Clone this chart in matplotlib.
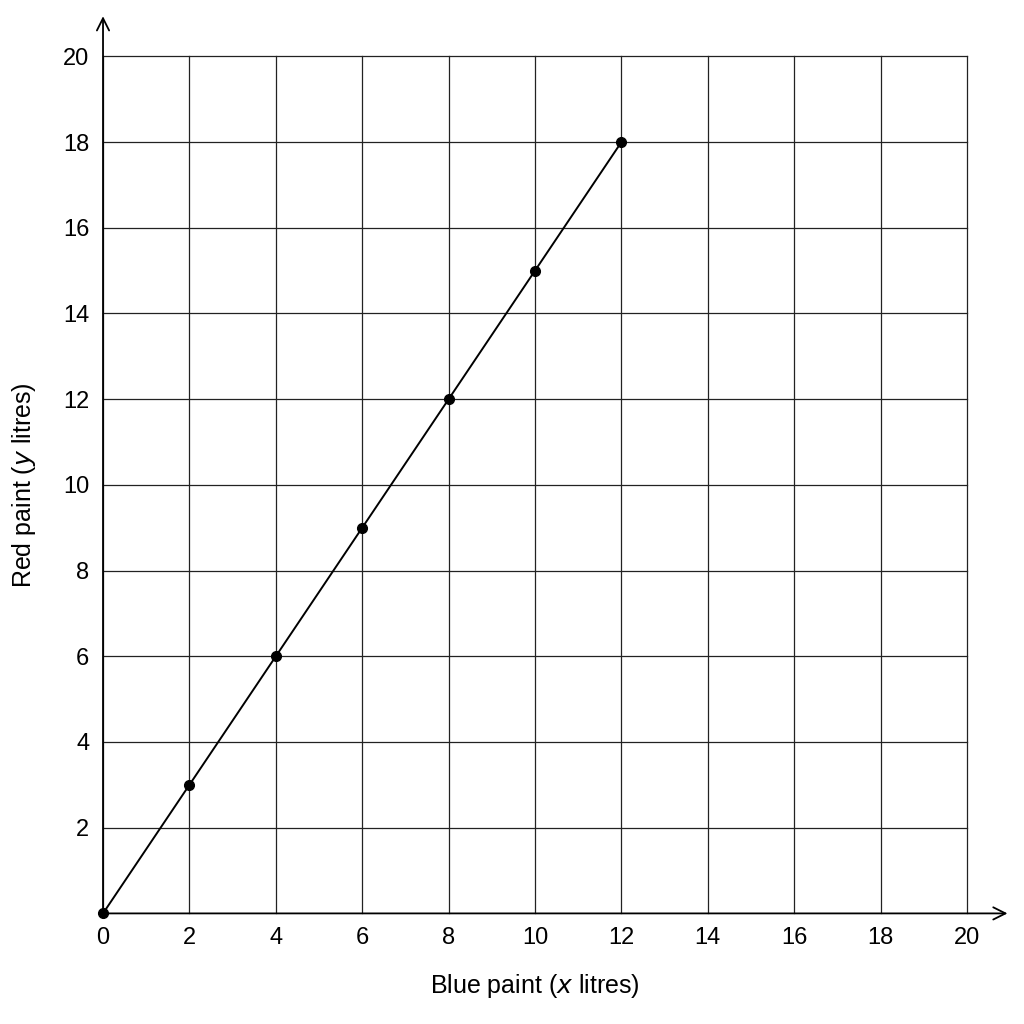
import matplotlib.pyplot as plt

plt.rcParams['font.family'] = ['Liberation Sans', 'DejaVu Sans']

# blue paint (x litres) vs red paint (y litres)
blue = [0, 2, 4, 6, 8, 10, 12]
red = [0, 3, 6, 9, 12, 15, 18]
x_ticks = list(range(0, 21, 2))
y_ticks = list(range(2, 21, 2))

fig = plt.figure(figsize=(10.24, 10.24), dpi=100)
ax = fig.add_axes([0.1006, 0.108, 0.8438, 0.837])
ax.set_xlim(0, 20)
ax.set_ylim(0, 20)

ax.set_xticks(x_ticks)
ax.set_yticks(y_ticks)
ax.tick_params(length=0, labelsize=17, pad=10)
ax.grid(True, color='#222222', linewidth=0.9)
for line in ax.get_xgridlines() + ax.get_ygridlines():
    line.set_clip_on(False)
for s in ax.spines.values():
    s.set_visible(False)

ax.plot(blue, red, color='black', linewidth=1.4, marker='o', markersize=7, zorder=3, clip_on=False)

# axes with arrows
ax.annotate('', xy=(21.0, 0), xytext=(0, 0), xycoords='data', annotation_clip=False,
            arrowprops=dict(arrowstyle='->', color='black', lw=1.3, mutation_scale=22))
ax.annotate('', xy=(0, 21.0), xytext=(0, 0), xycoords='data', annotation_clip=False,
            arrowprops=dict(arrowstyle='->', color='black', lw=1.3, mutation_scale=22))

ax.set_xlabel('Blue paint ($\\it{x}$ litres)', fontsize=18, labelpad=16)
ax.set_ylabel('Red paint ($\\it{y}$ litres)', fontsize=18, labelpad=18)

fig.savefig('out.png', dpi=100, facecolor='white')
